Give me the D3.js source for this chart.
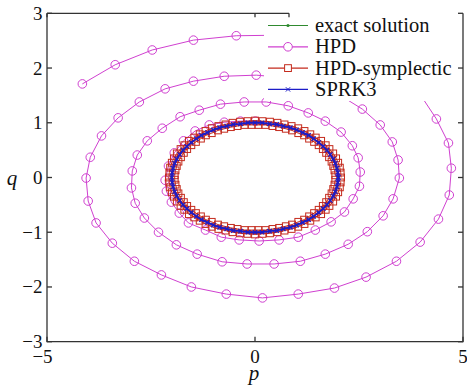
<!DOCTYPE html>
<html><head><meta charset="utf-8">
<script src="https://cdn.jsdelivr.net/npm/d3@7"></script>
<style>body{margin:0;background:#fff}svg{display:block}text{font-family:"Liberation Serif","Times New Roman",serif;fill:#111}</style>
</head><body><svg id="c" width="467" height="388"></svg>
<script>
const xTicks = [-5, 0, 5];
const yTicks = [-3, -2, -1, 0, 1, 2, 3];
const seriesNames = ["exact solution", "HPD", "HPD-symplectic", "SPRK3"];

const exactData = [[2.00,0.00],[1.97,0.17],[1.88,0.34],[1.73,0.50],[1.53,0.64],[1.29,0.77],[1.00,0.87],[0.68,0.94],[0.35,0.98],[0.00,1.00],[-0.35,0.98],[-0.68,0.94],[-1.00,0.87],[-1.29,0.77],[-1.53,0.64],[-1.73,0.50],[-1.88,0.34],[-1.97,0.17],[-2.00,0.00],[-1.97,-0.17],[-1.88,-0.34],[-1.73,-0.50],[-1.53,-0.64],[-1.29,-0.77],[-1.00,-0.87],[-0.68,-0.94],[-0.35,-0.98],[0.00,-1.00],[0.35,-0.98],[0.68,-0.94],[1.00,-0.87],[1.29,-0.77],[1.53,-0.64],[1.73,-0.50],[1.88,-0.34],[1.97,-0.17],[2.00,0.00]];

const hpdData = [[-4.15,1.71],[-3.36,2.06],[-2.47,2.33],[-1.48,2.51],[-0.45,2.59],[0.58,2.60],[1.62,2.49],[2.58,2.26],[3.42,1.91],[3.95,1.54],[4.36,1.07],[4.65,0.63],[4.72,0.17],[4.67,-0.32],[4.41,-0.76],[3.97,-1.18],[3.40,-1.53],[2.67,-1.82],[1.91,-2.02],[1.04,-2.13],[0.18,-2.20],[-0.69,-2.13],[-1.53,-2.00],[-2.25,-1.78],[-2.90,-1.53],[-3.43,-1.20],[-3.82,-0.83],[-4.01,-0.43],[-4.06,-0.01],[-3.96,0.37],[-3.69,0.76],[-3.29,1.09],[-2.78,1.38],[-2.16,1.62],[-1.48,1.76],[-0.74,1.85],[0.03,1.87],[0.78,1.82],[1.47,1.69],[2.07,1.49],[2.58,1.25],[3.01,0.96],[3.30,0.65],[3.44,0.32],[3.47,-0.01],[3.32,-0.39],[3.08,-0.70],[2.70,-0.99],[2.24,-1.22],[1.69,-1.40],[1.09,-1.53],[0.46,-1.58],[-0.19,-1.58],[-0.79,-1.54],[-1.39,-1.40],[-1.89,-1.23],[-2.32,-1.00],[-2.66,-0.74],[-2.88,-0.47],[-2.97,-0.19],[-2.95,0.12],[-2.83,0.41],[-2.59,0.67],[-2.23,0.90],[-1.80,1.11],[-1.34,1.23],[-0.83,1.34],[-0.26,1.38],[0.27,1.38],[0.80,1.31],[1.28,1.18],[1.69,1.03],[2.07,0.83],[2.34,0.58],[2.48,0.36],[2.53,0.10],[2.51,-0.16],[2.36,-0.39],[2.15,-0.63],[1.83,-0.81],[1.45,-0.96],[1.04,-1.09],[0.58,-1.14],[0.10,-1.16],[-0.38,-1.14],[-0.81,-1.09],[-1.19,-0.96],[-1.60,-0.83],[-1.82,-0.65],[-2.01,-0.45],[-2.13,-0.25],[-2.16,-0.05],[-2.08,0.21],[-1.94,0.45],[-1.72,0.67],[-1.44,0.85],[-1.10,0.96],[-0.74,1.01],[-0.35,1.03],[0.01,1.03]];

const hpdSymData = [[2.07,0.00],[2.06,0.09],[2.04,0.18],[2.00,0.27],[1.95,0.35],[1.88,0.44],[1.79,0.52],[1.70,0.59],[1.59,0.67],[1.46,0.73],[1.33,0.79],[1.19,0.85],[1.04,0.90],[0.88,0.94],[0.71,0.97],[0.54,1.00],[0.36,1.02],[0.18,1.03],
[0.00,1.04],[-0.18,1.03],[-0.36,1.02],[-0.54,1.00],[-0.71,0.97],[-0.88,0.94],[-1.04,0.90],[-1.19,0.85],[-1.33,0.79],[-1.46,0.73],[-1.59,0.67],[-1.70,0.59],[-1.79,0.52],[-1.88,0.44],[-1.95,0.35],[-2.00,0.27],[-2.04,0.18],[-2.06,0.09],
[-2.07,0.00],[-2.06,-0.09],[-2.04,-0.18],[-2.00,-0.27],[-1.95,-0.35],[-1.88,-0.44],[-1.79,-0.52],[-1.70,-0.59],[-1.59,-0.67],[-1.46,-0.73],[-1.33,-0.79],[-1.19,-0.85],[-1.04,-0.90],[-0.88,-0.94],[-0.71,-0.97],[-0.54,-1.00],[-0.36,-1.02],[-0.18,-1.03],
[0.00,-1.04],[0.18,-1.03],[0.36,-1.02],[0.54,-1.00],[0.71,-0.97],[0.88,-0.94],[1.04,-0.90],[1.19,-0.85],[1.33,-0.79],[1.46,-0.73],[1.59,-0.67],[1.70,-0.59],[1.79,-0.52],[1.88,-0.44],[1.95,-0.35],[2.00,-0.27],[2.04,-0.18],[2.06,-0.09],
[1.93,0.04],[1.91,0.13],[1.88,0.21],[1.84,0.29],[1.78,0.37],[1.71,0.45],[1.63,0.52],[1.53,0.59],[1.42,0.65],[1.30,0.71],[1.18,0.77],[1.04,0.81],[0.89,0.86],[0.74,0.89],[0.58,0.92],[0.42,0.94],[0.25,0.96],[0.08,0.96],
[-0.08,0.96],[-0.25,0.96],[-0.42,0.94],[-0.58,0.92],[-0.74,0.89],[-0.89,0.86],[-1.04,0.81],[-1.18,0.77],[-1.30,0.71],[-1.42,0.65],[-1.53,0.59],[-1.63,0.52],[-1.71,0.45],[-1.78,0.37],[-1.84,0.29],[-1.88,0.21],[-1.91,0.13],[-1.93,0.04],
[-1.93,-0.04],[-1.91,-0.13],[-1.88,-0.21],[-1.84,-0.29],[-1.78,-0.37],[-1.71,-0.45],[-1.63,-0.52],[-1.53,-0.59],[-1.42,-0.65],[-1.30,-0.71],[-1.18,-0.77],[-1.04,-0.81],[-0.89,-0.86],[-0.74,-0.89],[-0.58,-0.92],[-0.42,-0.94],[-0.25,-0.96],[-0.08,-0.96],
[0.08,-0.96],[0.25,-0.96],[0.42,-0.94],[0.58,-0.92],[0.74,-0.89],[0.89,-0.86],[1.04,-0.81],[1.18,-0.77],[1.30,-0.71],[1.42,-0.65],[1.53,-0.59],[1.63,-0.52],[1.71,-0.45],[1.78,-0.37],[1.84,-0.29],[1.88,-0.21],[1.91,-0.13],[1.93,-0.04]];

const sprk3Data = [[2.00,0.00],[1.99,0.09],[1.97,0.17],[1.93,0.26],[1.88,0.34],[1.81,0.42],[1.73,0.50],[1.64,0.57],[1.53,0.64],[1.41,0.71],[1.29,0.77],[1.15,0.82],[1.00,0.87],[0.85,0.91],[0.68,0.94],[0.52,0.97],[0.35,0.98],[0.17,1.00],
[0.00,1.00],[-0.17,1.00],[-0.35,0.98],[-0.52,0.97],[-0.68,0.94],[-0.85,0.91],[-1.00,0.87],[-1.15,0.82],[-1.29,0.77],[-1.41,0.71],[-1.53,0.64],[-1.64,0.57],[-1.73,0.50],[-1.81,0.42],[-1.88,0.34],[-1.93,0.26],[-1.97,0.17],[-1.99,0.09],
[-2.00,0.00],[-1.99,-0.09],[-1.97,-0.17],[-1.93,-0.26],[-1.88,-0.34],[-1.81,-0.42],[-1.73,-0.50],[-1.64,-0.57],[-1.53,-0.64],[-1.41,-0.71],[-1.29,-0.77],[-1.15,-0.82],[-1.00,-0.87],[-0.85,-0.91],[-0.68,-0.94],[-0.52,-0.97],[-0.35,-0.98],[-0.17,-1.00],
[0.00,-1.00],[0.17,-1.00],[0.35,-0.98],[0.52,-0.97],[0.68,-0.94],[0.85,-0.91],[1.00,-0.87],[1.15,-0.82],[1.29,-0.77],[1.41,-0.71],[1.53,-0.64],[1.64,-0.57],[1.73,-0.50],[1.81,-0.42],[1.88,-0.34],[1.93,-0.26],[1.97,-0.17],[1.99,-0.09],[2.00,0.00]];

const colors = {exact:"#2f8a2f", hpd:"#d040d0", sym:"#c42a1c", sprk:"#1c1cc8"};

const svg = d3.select("#c");
const L = 47, R = 463, T = 13.3, B = 341.7;
const x = d3.scaleLinear().domain([-5, 5]).range([L, R]);
const y = d3.scaleLinear().domain([-3, 3]).range([B, T]);
const line = d3.line().x(d => x(d[0])).y(d => y(d[1]));

const plot = svg.append("g");
// exact
plot.append("path").attr("d", line(exactData)).attr("fill","none").attr("stroke",colors.exact).attr("stroke-width",1);
plot.selectAll(".ex").data(exactData).join("circle").attr("cx",d=>x(d[0])).attr("cy",d=>y(d[1])).attr("r",1.5).attr("fill",colors.exact);
// HPD
plot.append("path").attr("d", line(hpdData)).attr("fill","none").attr("stroke",colors.hpd).attr("stroke-width",1);
plot.selectAll(".hp").data(hpdData).join("circle").attr("cx",d=>x(d[0])).attr("cy",d=>y(d[1])).attr("r",4.3).attr("fill","none").attr("stroke",colors.hpd).attr("stroke-width",1);
// HPD-symplectic
plot.append("path").attr("d", line(hpdSymData)).attr("fill","none").attr("stroke",colors.sym).attr("stroke-width",1);
plot.selectAll(".sq").data(hpdSymData).join("rect").attr("x",d=>x(d[0])-3.4).attr("y",d=>y(d[1])-3.4).attr("width",6.8).attr("height",6.8).attr("fill","none").attr("stroke",colors.sym).attr("stroke-width",1);
// SPRK3
plot.append("path").attr("d", line(sprk3Data)).attr("fill","none").attr("stroke",colors.sprk).attr("stroke-width",1.8);
const xm = d3.symbol().type(d3.symbolX).size(14);
plot.selectAll(".sx").data(sprk3Data).join("path").attr("d",xm).attr("transform",d=>`translate(${x(d[0])},${y(d[1])})`).attr("fill","none").attr("stroke",colors.sprk).attr("stroke-width",1.2);

// legend background
svg.append("rect").attr("x",264).attr("y",14.5).attr("width",197.5).attr("height",86.5).attr("fill","#fff");

// frame
const frame = svg.append("g").attr("stroke","#333").attr("stroke-width",1.3).attr("fill","none");
frame.append("path").attr("d",`M${L},${T}H289`);
frame.append("path").attr("d",`M289,${T}v4`);
frame.append("path").attr("d",`M${L},${T}V${B}H${R}V${T}`);
yTicks.forEach(v => {
  frame.append("path").attr("d",`M${L},${y(v)}h5`);
  frame.append("path").attr("d",`M${R},${y(v)}h-5`);
});
xTicks.forEach(v => {
  frame.append("path").attr("d",`M${x(v)},${B}v-5`);
  if (x(v) < 264) frame.append("path").attr("d",`M${x(v)},${T}v4`);
});

// tick labels
svg.selectAll(".yl").data(yTicks).join("text").attr("x",42.5).attr("y",d=>y(d)+6.5).attr("text-anchor","end").attr("font-size",19).text(d=>d<0?"\u2212"+Math.abs(d):d);
svg.selectAll(".xl").data(xTicks).join("text").attr("x",d=>x(d)+(d<0?-4.5:0)).attr("y",363).attr("text-anchor","middle").attr("font-size",19).text(d=>d<0?"\u2212"+Math.abs(d):d);

// axis labels
svg.append("text").attr("x",254).attr("y",380).attr("text-anchor","middle").attr("font-size",21).attr("font-style","italic").text("p");
svg.append("text").attr("x",12).attr("y",185).attr("text-anchor","middle").attr("font-size",21).attr("font-style","italic").text("q");

// legend
const lg = svg.append("g");
const rowY = [25.5, 46.8, 68.1, 89.4];
const keys = ["exact","hpd","sym","sprk"];
seriesNames.forEach((name, i) => {
  const cy = rowY[i], c = colors[keys[i]];
  lg.append("line").attr("x1",268).attr("x2",308).attr("y1",cy).attr("y2",cy).attr("stroke",c).attr("stroke-width",1.2);
  if (i === 0) lg.append("circle").attr("cx",288).attr("cy",cy).attr("r",1.6).attr("fill",c);
  if (i === 1) lg.append("circle").attr("cx",288).attr("cy",cy).attr("r",4.3).attr("fill","#fff").attr("stroke",c);
  if (i === 2) lg.append("rect").attr("x",284.6).attr("y",cy-3.4).attr("width",6.8).attr("height",6.8).attr("fill","#fff").attr("stroke",c);
  if (i === 3) lg.append("path").attr("d",xm).attr("transform",`translate(288,${cy})`).attr("stroke",c).attr("fill","none");
  lg.append("text").attr("x",315).attr("y",cy+6.5).attr("font-size",20.5).text(name);
});
</script></body></html>
